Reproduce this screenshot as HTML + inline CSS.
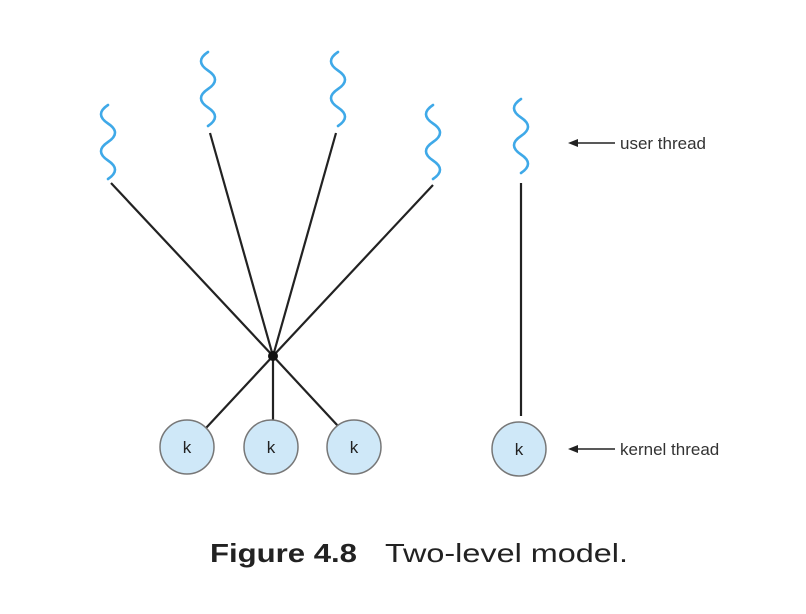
<!DOCTYPE html>
<html><head><meta charset="utf-8"><style>
html,body{margin:0;padding:0;background:#fff;}
svg{display:block;}
</style></head><body>
<svg width="806" height="614" viewBox="0 0 806 614" xmlns="http://www.w3.org/2000/svg">
<defs>
<path id="wv" d="M0,0 q-14,9.25 0,18.5 q14,9.25 0,18.5 q-14,9.25 0,18.5 q14,9.25 0,18.5" fill="none" stroke="#3fa9e8" stroke-width="2.6" stroke-linecap="round"/>
</defs>
<use href="#wv" x="108" y="105"/>
<use href="#wv" x="208" y="52"/>
<use href="#wv" x="338" y="52"/>
<use href="#wv" x="433" y="105"/>
<use href="#wv" x="521" y="99"/>
<g stroke="#222" stroke-width="2.2" fill="none">
<line x1="111" y1="183" x2="273" y2="356"/>
<line x1="210" y1="133" x2="273" y2="356"/>
<line x1="336" y1="133" x2="273" y2="356"/>
<line x1="433" y1="185" x2="273" y2="356"/>
<line x1="521" y1="183" x2="521" y2="416"/>
<line x1="273" y1="356" x2="206" y2="428"/>
<line x1="273" y1="356" x2="273" y2="421"/>
<line x1="273" y1="356" x2="338" y2="426"/>
</g>
<circle cx="273" cy="356" r="5" fill="#111"/>
<g fill="#cfe8f8" stroke="#777" stroke-width="1.5">
<circle cx="187" cy="447" r="27"/>
<circle cx="271" cy="447" r="27"/>
<circle cx="354" cy="447" r="27"/>
<circle cx="519" cy="449" r="27"/>
</g>
<g font-family="Liberation Sans, sans-serif" font-size="17" fill="#222" text-anchor="middle">
<text x="187" y="453">k</text>
<text x="271" y="453">k</text>
<text x="354" y="453">k</text>
<text x="519" y="455">k</text>
</g>
<g stroke="#222" stroke-width="1.5">
<line x1="574" y1="143" x2="615" y2="143"/>
<line x1="574" y1="449" x2="615" y2="449"/>
</g>
<polygon points="568,143 578,139 578,147" fill="#222"/>
<polygon points="568,449 578,445 578,453" fill="#222"/>
<g font-family="Liberation Sans, sans-serif" font-size="17" fill="#333">
<text x="620" y="149">user thread</text>
<text x="620" y="455">kernel thread</text>
</g>
<text x="210" y="562" font-family="Liberation Sans, sans-serif" font-size="26" font-weight="bold" fill="#222" textLength="147" lengthAdjust="spacingAndGlyphs">Figure 4.8</text>
<text x="385" y="562" font-family="Liberation Sans, sans-serif" font-size="26" fill="#222" textLength="243" lengthAdjust="spacingAndGlyphs">Two-level model.</text>
</svg>
</body></html>
